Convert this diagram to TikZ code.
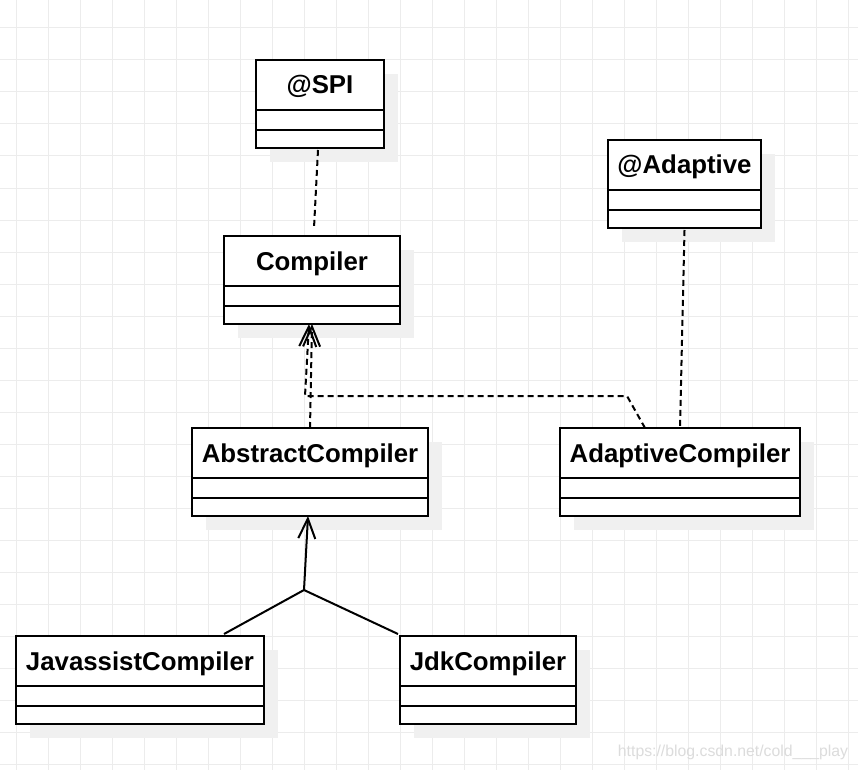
\documentclass[tikz,border=0pt]{standalone}
\usepackage{fontspec}
\setmainfont{Liberation Sans}
\usetikzlibrary{arrows.meta,positioning,shadows}
\definecolor{gridgray}{RGB}{236,236,236}
\definecolor{shadegray}{RGB}{240,240,240}
\definecolor{markgray}{RGB}{220,220,220}

\begin{document}
\begin{tikzpicture}[x=1pt, y=-1pt,
  gridline/.style={gridgray, line width=1pt},
  clsbox/.style={draw, fill=white, line width=2pt, inner sep=0pt, outer sep=0pt,
    drop shadow={shadow xshift=14pt, shadow yshift=-14pt, fill=shadegray, opacity=1}},
  clshead/.style={clsbox, anchor=north west, minimum height=50pt, text height=21pt, text depth=3pt,
    font={\fontsize{25.8}{30}\selectfont\bfseries}},
  clsattr/.style={clsbox, minimum height=20pt},
  clsops/.style={clsbox, minimum height=18pt},
  depline/.style={line width=2pt, dash pattern=on 6pt off 4pt},
  realize/.style={depline, -{Straight Barb[length=20pt, width=17pt]}},
  inherit/.style={line width=2pt, -{Straight Barb[length=20pt, width=17pt]}}]
  \useasboundingbox (0,0) rectangle (858,770);
  \fill[white] (0,0) rectangle (858,770);

  % grid
  \foreach \gx in {0,...,26}
    \draw[gridline] (16+32*\gx,0) -- (16+32*\gx,770);
  \foreach \gy in {0,...,23}
    \draw[gridline] (0,28+32*\gy) -- (858,28+32*\gy);

  % classes
  \node[clshead, minimum width=128pt] (spi) at (256,60) {@SPI};
  \node[clsattr, minimum width=128pt, below=0pt of spi] (spi-a) {};
  \node[clsops, minimum width=128pt, below=0pt of spi-a] (spi-b) {};

  \node[clshead, minimum width=153pt] (adaptive) at (608,140) {@Adaptive};
  \node[clsattr, minimum width=153pt, below=0pt of adaptive] (adaptive-a) {};
  \node[clsops, minimum width=153pt, below=0pt of adaptive-a] (adaptive-b) {};

  \node[clshead, minimum width=176pt] (compiler) at (224,236) {Compiler};
  \node[clsattr, minimum width=176pt, below=0pt of compiler] (compiler-a) {};
  \node[clsops, minimum width=176pt, below=0pt of compiler-a] (compiler-b) {};

  \node[clshead, minimum width=236pt] (abstract) at (192,428) {AbstractCompiler};
  \node[clsattr, minimum width=236pt, below=0pt of abstract] (abstract-a) {};
  \node[clsops, minimum width=236pt, below=0pt of abstract-a] (abstract-b) {};

  \node[clshead, minimum width=240pt] (adaptivecomp) at (560,428) {AdaptiveCompiler};
  \node[clsattr, minimum width=240pt, below=0pt of adaptivecomp] (adaptivecomp-a) {};
  \node[clsops, minimum width=240pt, below=0pt of adaptivecomp-a] (adaptivecomp-b) {};

  \node[clshead, minimum width=248pt] (javassist) at (16,636) {JavassistCompiler};
  \node[clsattr, minimum width=248pt, below=0pt of javassist] (javassist-a) {};
  \node[clsops, minimum width=248pt, below=0pt of javassist-a] (javassist-b) {};

  \node[clshead, minimum width=176pt] (jdk) at (400,636) {JdkCompiler};
  \node[clsattr, minimum width=176pt, below=0pt of jdk] (jdk-a) {};
  \node[clsops, minimum width=176pt, below=0pt of jdk-a] (jdk-b) {};

  % annotations
  \draw[depline] ([xshift=-2pt, yshift=-2pt]spi-b.south) -- ([xshift=2pt, yshift=8pt]compiler.north);
  \draw[depline] ([yshift=-2pt]adaptive-b.south) -- (adaptivecomp.north);

  % implementations
  \coordinate (bendr) at (627,396);
  \coordinate (bendl) at (305,396);
  \draw[realize] (abstract.north) -- (compiler-b.south);
  \draw[realize] ([xshift=-35pt]adaptivecomp.north) -- (bendr) -- (bendl) -- ([xshift=-3pt]compiler-b.south);

  % inheritance
  \coordinate (join) at (304,590);
  \draw[line width=2pt] ([xshift=84pt, yshift=2pt]javassist.north) -- (join);
  \draw[line width=2pt] ([xshift=-2pt, yshift=2pt]jdk.north west) -- (join);
  \draw[inherit] (join) -- ([xshift=-2pt]abstract-b.south);

  \node[markgray, font=\fontsize{15.8}{18}\selectfont] (mark) at (733,752) {https://blog.csdn.net/cold\_\_\_play};
\end{tikzpicture}
\end{document}
